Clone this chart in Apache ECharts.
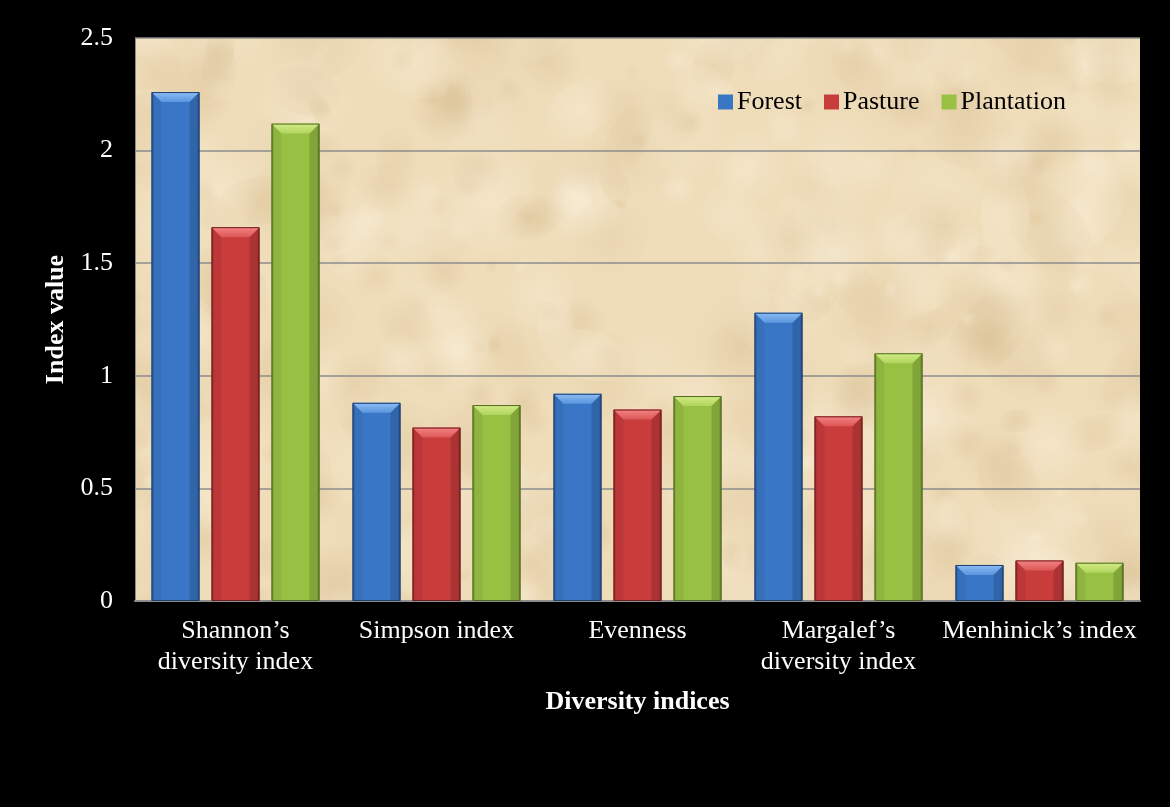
<!DOCTYPE html>
<html>
<head>
<meta charset="utf-8">
<script src="https://cdn.jsdelivr.net/npm/echarts@6/dist/echarts.min.js"></script>
<style>
  html, body { margin: 0; padding: 0; background: #000; }
  #chart { width: 1170px; height: 807px; }
</style>
</head>
<body>
<div id="chart"></div>
<script>
// Diversity indices by land use
const categories = ['Shannon’s\ndiversity index', 'Simpson index', 'Evenness', 'Margalef’s\ndiversity index', 'Menhinick’s index'];
const forest = [2.26, 0.88, 0.92, 1.28, 0.16];
const pasture = [1.66, 0.77, 0.85, 0.82, 0.18];
const plantation = [2.12, 0.87, 0.91, 1.10, 0.17];
const yTicks = { min: 0, max: 2.5, step: 0.5 };

const FONT = '"Liberation Serif", "Times New Roman", serif';

// Parchment texture for the plot background (seeded, so it is the same every run)
function makeParchment(w, h) {
  const c = document.createElement('canvas');
  c.width = w; c.height = h;
  const g = c.getContext('2d');
  g.fillStyle = 'rgb(239,221,186)';
  g.fillRect(0, 0, w, h);
  let seed = 12345;
  const rnd = () => { seed = (seed * 1103515245 + 12345) % 2147483648; return seed / 2147483648; };
  for (let i = 0; i < 700; i++) {
    const x = rnd() * w, y = rnd() * h, r = 8 + rnd() * 45;
    const dark = rnd() < 0.55;
    const col = dark ? '200,170,120' : '252,243,224';
    const a = dark ? 0.10 + rnd() * 0.14 : 0.15 + rnd() * 0.25;
    const grad = g.createRadialGradient(x, y, 0, x, y, r);
    grad.addColorStop(0, 'rgba(' + col + ',' + a + ')');
    grad.addColorStop(1, 'rgba(' + col + ',0)');
    g.fillStyle = grad;
    g.beginPath();
    g.ellipse(x, y, r, r * (0.5 + rnd() * 0.8), rnd() * Math.PI, 0, Math.PI * 2);
    g.fill();
  }
  return c;
}

const palettes = [
  { name: 'Forest', base: '#3a76c6', light: '#8cbcf4', mid: '#5a95de', dark: '#2a5898', edge: '#1d3f6e' },
  { name: 'Pasture', base: '#c83c3c', light: '#f48484', mid: '#dc5656', dark: '#982a2a', edge: '#6e1c1c' },
  { name: 'Plantation', base: '#98c043', light: '#d2ec86', mid: '#b0d45c', dark: '#749430', edge: '#4f6820' }
];

const BAR_W = 48, BAR_GAP = 12;

function renderBar(params, api) {
  const p = palettes[params.seriesIndex];
  const base = api.coord([api.value(0), 0]);
  const top = api.coord([api.value(0), api.value(1)]);
  const off = (params.seriesIndex - 1) * (BAR_W + BAR_GAP);
  const x = base[0] + off - BAR_W / 2;
  const y = top[1];
  const h = base[1] - top[1];
  const w = BAR_W;
  const b = Math.min(10, h / 2);
  const bodyFill = new echarts.graphic.LinearGradient(0, 0, 1, 0, [
    { offset: 0, color: p.dark },
    { offset: 0.06, color: p.base },
    { offset: 0.94, color: p.base },
    { offset: 1, color: p.dark }
  ]);
  return {
    type: 'group',
    children: [
      { type: 'rect', shape: { x: x, y: y, width: w, height: h }, style: { fill: bodyFill } },
      { type: 'polygon', shape: { points: [[x, y], [x + b, y + b], [x + b, y + h], [x, y + h]] },
        style: { fill: 'rgba(0,0,0,0.06)' } },
      { type: 'polygon', shape: { points: [[x + w, y], [x + w - b, y + b], [x + w - b, y + h], [x + w, y + h]] },
        style: { fill: 'rgba(0,0,0,0.14)' } },
      { type: 'polygon', shape: { points: [[x, y], [x + w, y], [x + w - b, y + b], [x + b, y + b]] },
        style: { fill: new echarts.graphic.LinearGradient(0, 0, 0, 1, [
          { offset: 0, color: p.light }, { offset: 1, color: p.mid }
        ]) } },
      { type: 'rect', shape: { x: x + 0.5, y: y + 0.5, width: w - 1, height: h - 1 },
        style: { fill: 'none', stroke: p.edge, lineWidth: 1 } }
    ]
  };
}

function seriesFor(name, values, idx) {
  return {
    name: name,
    type: 'custom',
    renderItem: renderBar,
    itemStyle: { color: palettes[idx].base },
    encode: { x: 0, y: 1 },
    data: values.map((v, i) => [i, v]),
    z: 3
  };
}

const chart = echarts.init(document.getElementById('chart'), null, { renderer: 'canvas' });
chart.setOption({
  backgroundColor: '#000',
  animation: false,
  grid: {
    left: 135, right: 30, top: 38, bottom: 206,
    show: true,
    backgroundColor: { image: makeParchment(1170, 807), repeat: 'repeat' },
    borderWidth: 0
  },
  legend: {
    data: ['Forest', 'Pasture', 'Plantation'],
    left: 713, top: 84,
    icon: 'rect', itemWidth: 15, itemHeight: 15, itemGap: 22,
    textStyle: { color: '#000', fontFamily: FONT, fontSize: 26, padding: [0, 0, 0, -1] }
  },
  xAxis: {
    type: 'category',
    data: categories,
    name: 'Diversity indices',
    nameLocation: 'middle',
    nameGap: 88,
    nameTextStyle: { color: '#fff', fontFamily: FONT, fontSize: 26, fontWeight: 'bold' },
    axisLine: { lineStyle: { color: '#8c8c8c', width: 2 } },
    axisTick: { show: false },
    axisLabel: { color: '#fff', fontFamily: FONT, fontSize: 26, lineHeight: 31, margin: 15, interval: 0 }
  },
  yAxis: {
    type: 'value',
    min: yTicks.min, max: yTicks.max, interval: yTicks.step,
    name: 'Index value',
    nameLocation: 'middle',
    nameGap: 66,
    nameTextStyle: { color: '#fff', fontFamily: FONT, fontSize: 26, fontWeight: 'bold' },
    axisLine: { show: true, lineStyle: { color: '#8c8c8c', width: 1 } },
    axisTick: { show: false },
    axisLabel: { color: '#fff', fontFamily: FONT, fontSize: 26, margin: 22 },
    splitLine: { lineStyle: { color: '#8c8c8c', width: 1.5 } }
  },
  series: [
    seriesFor('Forest', forest, 0),
    seriesFor('Pasture', pasture, 1),
    seriesFor('Plantation', plantation, 2)
  ]
});
</script>
</body>
</html>
